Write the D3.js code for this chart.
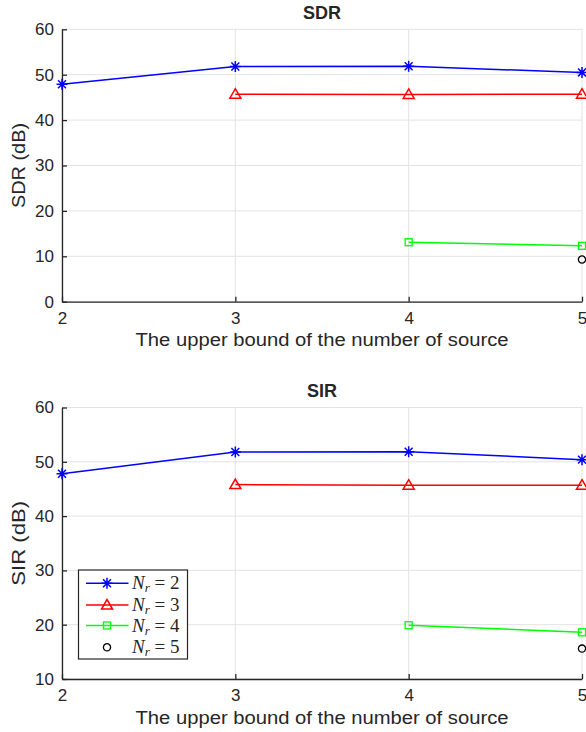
<!DOCTYPE html>
<html><head><meta charset="utf-8">
<script src="https://cdn.jsdelivr.net/npm/d3@7"></script>
<style>
html,body{margin:0;padding:0;background:#fff;}
svg text{font-family:"Liberation Sans",Arial,Helvetica,sans-serif;fill:#262626;}
</style></head>
<body><svg id="c" width="586" height="732"></svg>
<script>
const xValues = [2, 3, 4, 5];
const seriesNames = ["Nr2", "Nr3", "Nr4", "Nr5"];
const seriesLabels = ["2", "3", "4", "5"];
const sdrNr2 = [47.9, 51.8, 51.85, 50.5];
const sdrNr3 = [null, 45.7, 45.65, 45.7];
const sdrNr4 = [null, null, 13.1, 12.3];
const sdrNr5 = [null, null, null, 9.3];
const sirNr2 = [47.8, 51.8, 51.85, 50.4];
const sirNr3 = [null, 45.8, 45.7, 45.7];
const sirNr4 = [null, null, 19.9, 18.6];
const sirNr5 = [null, null, null, 15.6];
const sdrTicks = [0, 10, 20, 30, 40, 50, 60];
const sirTicks = [10, 20, 30, 40, 50, 60];
const xTitle = "The upper bound of the number of source";

const colors = ["#0000ff", "#ff0000", "#00ff00", "#000000"];
const markers = ["asterisk", "triangle", "square", "circle"];
const showLine = [true, true, true, false];

const svg = d3.select("#c");
const AX = "#262626";

function drawMarker(g, type, color) {
  if (type === "asterisk") {
    const r = 5.5;
    const p = d3.path();
    p.moveTo(-r, 0); p.lineTo(r, 0);
    p.moveTo(0, -r); p.lineTo(0, r);
    const d = r * 0.72;
    p.moveTo(-d, -d); p.lineTo(d, d);
    p.moveTo(-d, d); p.lineTo(d, -d);
    g.append("path").attr("d", p.toString()).attr("stroke", color).attr("stroke-width", 1.5).attr("fill", "none");
  } else if (type === "triangle") {
    g.append("path").attr("d", "M0,-5.5L5.5,4L-5.5,4Z").attr("stroke", color).attr("stroke-width", 1.5).attr("fill", "none");
  } else if (type === "square") {
    g.append("rect").attr("x", -3.5).attr("y", -3.5).attr("width", 7).attr("height", 7).attr("stroke", color).attr("stroke-width", 1.3).attr("fill", "none");
  } else {
    g.append("circle").attr("r", 3.6).attr("stroke", color).attr("stroke-width", 1.3).attr("fill", "none");
  }
}

function panel(cfg) {
  const x = d3.scaleLinear().domain([2, 5]).range([62, 582]);
  const y = d3.scaleLinear().domain(cfg.domain).range([cfg.bottom, cfg.top]);
  const g = svg.append("g");
  // grid
  g.append("g").selectAll("line").data(cfg.ticks).join("line")
    .attr("x1", x(2)).attr("x2", x(5)).attr("y1", d => y(d)).attr("y2", d => y(d))
    .attr("stroke", "#e3e3e3").attr("stroke-width", 1);
  g.append("g").selectAll("line").data(xValues).join("line")
    .attr("x1", d => x(d)).attr("x2", d => x(d)).attr("y1", y(cfg.domain[0])).attr("y2", y(cfg.domain[1]))
    .attr("stroke", "#e3e3e3").attr("stroke-width", 1);
  // axes
  const ya = d3.axisLeft(y).tickValues(cfg.ticks).tickSizeInner(-5).tickSizeOuter(0).tickPadding(8);
  const yg = g.append("g").attr("transform", `translate(${x(2)},0)`).call(ya);
  const xa = d3.axisBottom(x).tickValues(xValues).tickFormat(d3.format("d")).tickSizeInner(-5).tickSizeOuter(0).tickPadding(10);
  const xg = g.append("g").attr("transform", `translate(0,${y(cfg.domain[0])})`).call(xa);
  [yg, xg].forEach(a => {
    a.select(".domain").attr("stroke", AX).attr("stroke-width", 1.3);
    a.selectAll(".tick line").attr("stroke", AX).attr("stroke-width", 1.3);
    a.selectAll(".tick text").attr("font-size", 17).attr("fill", AX).style("font-family", "Liberation Sans, Arial, sans-serif");
  });
  // extend x axis line a bit to the right boundary
  // title
  g.append("text").attr("x", 322).attr("y", cfg.top - 10.4).attr("text-anchor", "middle")
    .attr("font-size", 18).attr("font-weight", "bold").text(cfg.title);
  g.append("text").attr("x", 322).attr("y", cfg.bottom + 44.5).attr("text-anchor", "middle")
    .attr("font-size", 18).attr("textLength", 373).attr("lengthAdjust", "spacingAndGlyphs").text(xTitle);
  g.append("text").attr("transform", `translate(25,${(cfg.top + cfg.bottom) / 2}) rotate(-90)`)
    .attr("text-anchor", "middle").attr("font-size", 18).attr("textLength", 85).attr("lengthAdjust", "spacingAndGlyphs").text(cfg.ylabel);
  // series
  cfg.series.forEach((vals, i) => {
    const pts = xValues.map((xv, j) => ({ x: xv, y: vals[j] })).filter(p => p.y !== null);
    if (showLine[i]) {
      g.append("path").datum(pts)
        .attr("d", d3.line().x(p => x(p.x)).y(p => y(p.y)))
        .attr("fill", "none").attr("stroke", colors[i]).attr("stroke-width", 1.5);
    }
    pts.forEach(p => {
      const mg = g.append("g").attr("transform", `translate(${x(p.x)},${y(p.y)})`);
      drawMarker(mg, markers[i], colors[i]);
    });
  });
  return { x, y, g };
}

panel({ title: "SDR", ylabel: "SDR (dB)", domain: [0, 60], ticks: sdrTicks, top: 29.3, bottom: 301.7,
  series: [sdrNr2, sdrNr3, sdrNr4, sdrNr5] });
const bottom = panel({ title: "SIR", ylabel: "SIR (dB)", domain: [10, 60], ticks: sirTicks, top: 407.5, bottom: 679,
  series: [sirNr2, sirNr3, sirNr4, sirNr5] });

// legend
const lg = svg.append("g").attr("transform", "translate(78.5,570)");
lg.append("rect").attr("x", 0).attr("y", 0).attr("width", 109).attr("height", 89)
  .attr("fill", "#fff").attr("stroke", AX).attr("stroke-width", 1.2);
const rowY = [13.3, 35, 55.5, 77.3];
seriesNames.forEach((n, i) => {
  const row = lg.append("g").attr("transform", `translate(0,${rowY[i]})`);
  if (showLine[i]) row.append("line").attr("x1", 7.5).attr("x2", 50).attr("y1", 0).attr("y2", 0)
    .attr("stroke", colors[i]).attr("stroke-width", 1.5);
  const mg = row.append("g").attr("transform", "translate(28.5,0)");
  drawMarker(mg, markers[i], colors[i]);
  const t = row.append("text").attr("x", 53.5).attr("y", 6)
    .style("font-family", "Liberation Serif, Times New Roman, serif").attr("font-size", 19).attr("fill", "#262626");
  t.append("tspan").attr("font-style", "italic").text("N");
  t.append("tspan").attr("font-style", "italic").attr("font-size", 13).attr("dy", 3).text("r");
  t.append("tspan").attr("dy", -3).text(" = " + seriesLabels[i]);
});
</script></body></html>
